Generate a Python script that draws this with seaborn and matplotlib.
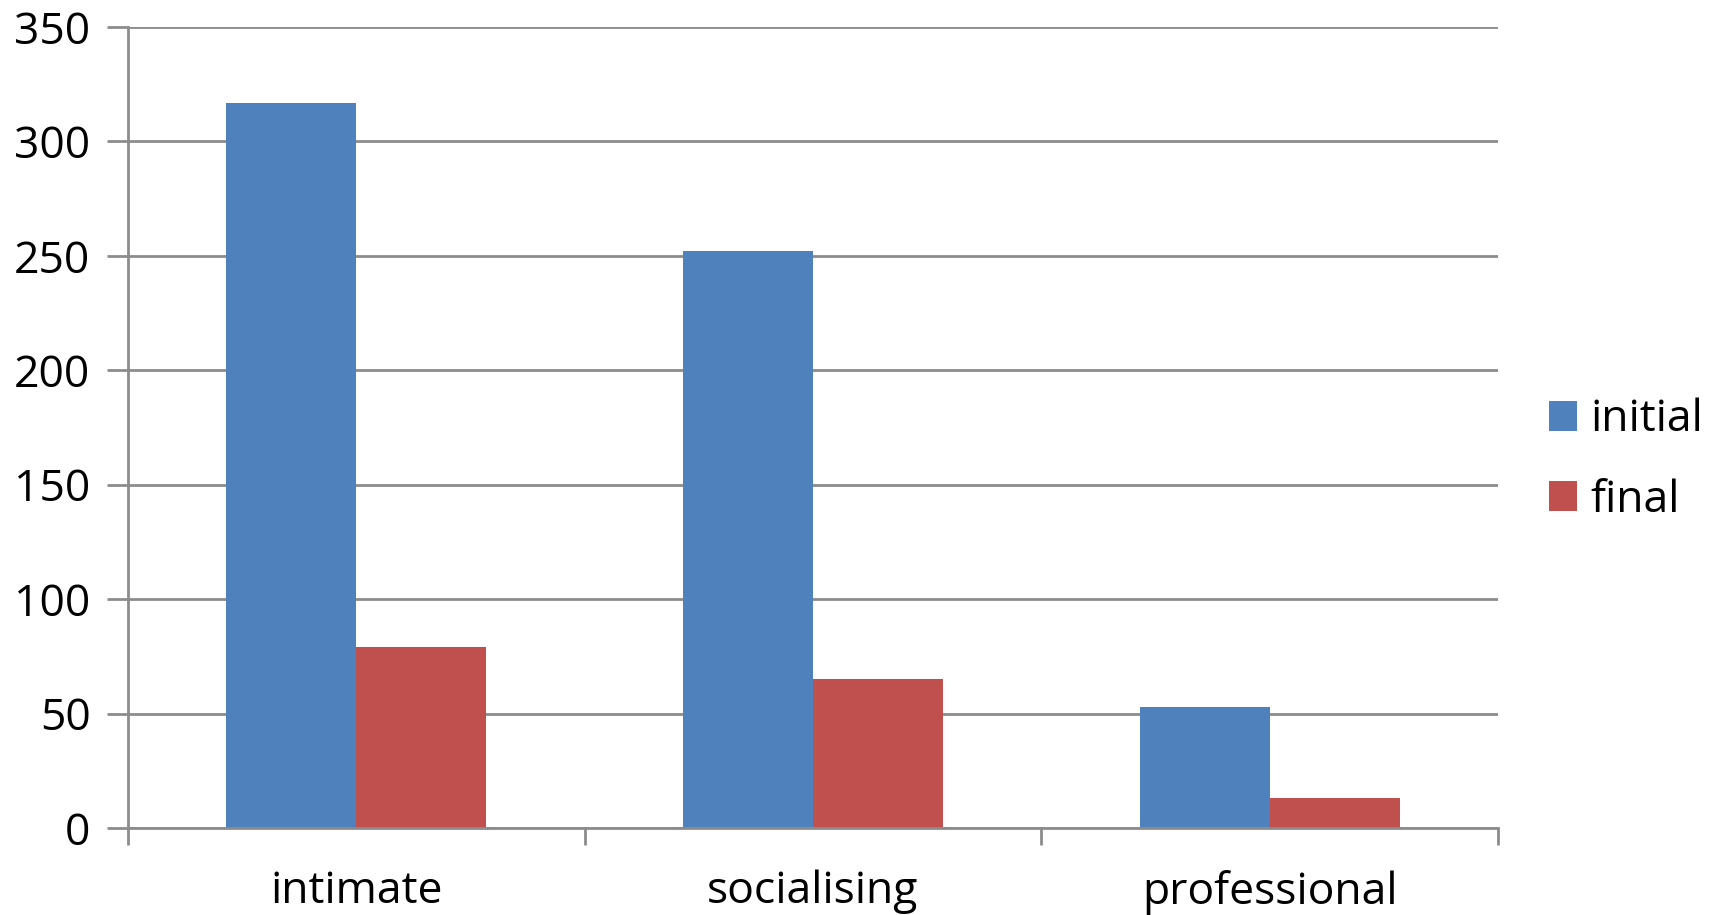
import pandas as pd
import matplotlib.pyplot as plt
import seaborn as sns

# chart data
categories = ['intimate', 'socialising', 'professional']
initial = [317, 252, 53]
final = [79, 65, 13]
series_names = ['initial', 'final']
colors = ['#4F81BD', '#C0504D']

df = pd.DataFrame({
    'category': categories * 2,
    'series': [series_names[0]] * 3 + [series_names[1]] * 3,
    'value': initial + final,
})

sns.set_theme(style="white")
plt.rcParams['font.family'] = ['Open Sans', 'DejaVu Sans']
plt.rcParams['text.color'] = 'black'
plt.rcParams['xtick.color'] = 'black'
plt.rcParams['ytick.color'] = 'black'

fig, ax = plt.subplots(figsize=(17.13, 9.15), dpi=100)
fig.subplots_adjust(left=0.0747, right=0.8745, top=0.9705, bottom=0.0951)

sns.barplot(data=df, x='category', y='value', hue='series', order=categories,
            hue_order=series_names, palette=colors, width=0.57, saturation=1,
            linewidth=0, ax=ax)

grid_color = '#8C8C8C'
ax.set_ylim(0, 350)
ax.set_xlim(-0.5, 2.5)
ax.set_yticks(range(0, 351, 50))
ax.yaxis.grid(True, color=grid_color, linewidth=2)
ax.set_axisbelow(True)
ax.set_xlabel('')
ax.set_ylabel('')

for side in ['top', 'right']:
    ax.spines[side].set_visible(False)
for side in ['left', 'bottom']:
    ax.spines[side].set_color(grid_color)
    ax.spines[side].set_linewidth(2)

ax.tick_params(axis='y', which='major', left=True, length=15, width=2,
               color=grid_color, labelcolor='black', labelsize=32, pad=12)
ax.tick_params(axis='x', which='major', length=0, labelcolor='black',
               labelsize=32, pad=30)
ax.set_xticks([-0.5, 0.5, 1.5, 2.5], minor=True)
ax.tick_params(axis='x', which='minor', bottom=True, length=12, width=2,
               color=grid_color)

ax.legend_.remove()
handles, labels = ax.get_legend_handles_labels()
fig.legend(handles, labels, loc='center left', bbox_to_anchor=(0.891, 0.497),
           frameon=False, fontsize=32, handlelength=0.65, handleheight=0.65,
           handletextpad=0.3, labelspacing=0.8, borderpad=0)

fig.savefig('out.png', dpi=100)
